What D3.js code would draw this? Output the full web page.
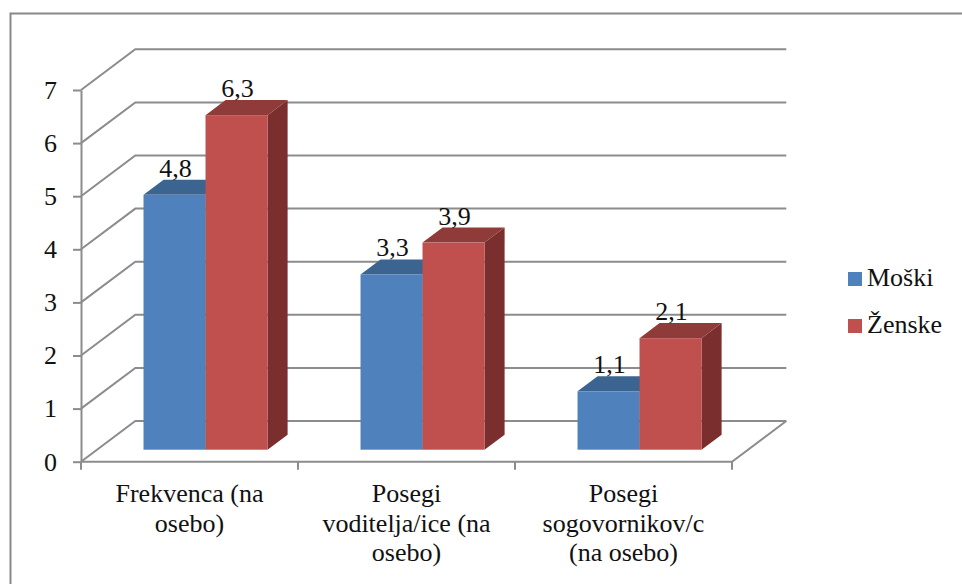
<!DOCTYPE html>
<html>
<head>
<meta charset="utf-8">
<script src="https://cdn.jsdelivr.net/npm/d3@7"></script>
<style>
  @font-face { font-family: "ChartSerif"; src: local("Liberation Serif"), local("LiberationSerif"), local("Times New Roman"); }
  .lbl { font-family: "ChartSerif", "Liberation Serif", "Times New Roman", serif !important; }
</style>
</head>
<body style="margin:0">
<svg id="chart" width="962" height="584"></svg>
<script>
// Category labels (wrapped lines) and series values
const categories = ["Frekvenca (na osebo)", "Posegi voditelja/ice (na osebo)", "Posegi sogovornikov/c (na osebo)"];
const categoryLines = [
  ["Frekvenca (na", "osebo)"],
  ["Posegi", "voditelja/ice (na", "osebo)"],
  ["Posegi", "sogovornikov/c", "(na osebo)"]
];
const seriesNames = ["Moški", "Ženske"];
const moski = [4.8, 3.3, 1.1];
const zenske = [6.3, 3.9, 2.1];
const yTicks = [0, 1, 2, 3, 4, 5, 6, 7];

const series = [
  { name: seriesNames[0], values: moski, front: "#4f81bd", top: "#3c6491", side: "#2f4f77" },
  { name: seriesNames[1], values: zenske, front: "#c0504d", top: "#8f3b39", side: "#7a2f2e" }
];

const fontSize = 26;
const textColor = "#111";

const svg = d3.select("#chart");

// outer frame
svg.append("rect")
  .attr("x", 10.5).attr("y", 13.5)
  .attr("width", 1000).attr("height", 1000)
  .attr("fill", "none").attr("stroke", "#888").attr("stroke-width", 2);

// 3D projection of the plot box
const left = 81, right = 732;
const wallDX = 54.3, wallDY = -40.7;
const y = d3.scaleLinear().domain([0, 7]).range([461.7, 90]);
const x = d3.scaleBand().domain(categories).range([left, right]).paddingInner(0).paddingOuter(0);
const gridColor = "#8c8c8c";

const grid = svg.append("g");
// gridlines on left side wall and back wall
yTicks.forEach(v => {
  const yy = y(v);
  grid.append("path")
    .attr("d", `M${left},${yy}L${left + wallDX},${yy + wallDY}L${right + wallDX},${yy + wallDY}`)
    .attr("fill", "none").attr("stroke", gridColor).attr("stroke-width", 2);
});
// floor front edge and right edge
grid.append("path")
  .attr("d", `M${left},${y(0)}L${right},${y(0)}L${right + wallDX},${y(0) + wallDY}`)
  .attr("fill", "none").attr("stroke", gridColor).attr("stroke-width", 2);

// category tick marks at band boundaries
const bounds = categories.map(c => x(c)).concat([right]);
grid.selectAll("line.ctick").data(bounds).join("line")
  .attr("class", "ctick")
  .attr("x1", d => d).attr("x2", d => d)
  .attr("y1", y(0)).attr("y2", y(0) + 8)
  .attr("stroke", gridColor).attr("stroke-width", 2);

// value axis
const yAxis = svg.append("g")
  .attr("transform", `translate(${left},0)`)
  .call(d3.axisLeft(y).tickValues(yTicks).tickFormat(d3.format("d")).tickSize(8).tickSizeOuter(0).tickPadding(16))
  .attr("font-family", "Liberation Serif")
  .attr("font-size", fontSize);
yAxis.select(".domain").attr("stroke", gridColor).attr("stroke-width", 2);
yAxis.selectAll(".tick line").attr("stroke", gridColor).attr("stroke-width", 2);

// bars
const bw = x.bandwidth() / 3.5;
const t0 = 0.295, tD = 0.37;            // depth position and depth of bars, as fraction of the wall
const sx = wallDX * t0, sy = wallDY * t0;
const ddx = wallDX * tD, ddy = wallDY * tD;
const bars = svg.append("g");
const labels = svg.append("g");

categories.forEach((c, ci) => {
  series.forEach((s, si) => {
    const v = s.values[ci];
    const x0 = x(c) + 0.75 * bw + si * bw + sx;
    const x1 = x0 + bw;
    const yb = y(0) + sy;
    const yt = y(v) + sy;
    const g = bars.append("g");
    // side face
    g.append("path")
      .attr("d", `M${x1},${yb}L${x1 + ddx},${yb + ddy}L${x1 + ddx},${yt + ddy}L${x1},${yt}Z`)
      .attr("fill", s.side);
    // top face
    g.append("path")
      .attr("d", `M${x0},${yt}L${x1},${yt}L${x1 + ddx},${yt + ddy}L${x0 + ddx},${yt + ddy}Z`)
      .attr("fill", s.top);
    // front face
    g.append("rect")
      .attr("x", x0).attr("y", yt)
      .attr("width", bw).attr("height", yb - yt)
      .attr("fill", s.front);
    // value label
    labels.append("text")
      .attr("x", x0 + bw / 2 + 1)
      .attr("y", yt + ddy - 3)
      .attr("text-anchor", "middle")
      .text(d3.format(".1f")(v).replace(".", ","));
  });
});

// category labels
const catLabels = svg.append("g");
categories.forEach((c, ci) => {
  const cx = x(c) + x.bandwidth() / 2;
  const t = catLabels.append("text").attr("text-anchor", "middle");
  categoryLines[ci].forEach((line, li) => {
    t.append("tspan").attr("x", cx).attr("y", 502 + li * 29.5).text(line);
  });
});

// legend
const legend = svg.append("g").attr("transform", "translate(848,272)");
series.forEach((s, i) => {
  const g = legend.append("g").attr("transform", `translate(0,${i * 47})`);
  g.append("rect").attr("width", 14).attr("height", 14).attr("fill", s.front);
  g.append("text").attr("x", 19).attr("y", 14).text(s.name);
});

// shared typeface for every label
svg.selectAll("text")
  .classed("lbl", true)
  .attr("font-family", "Liberation Serif")
  .attr("font-size", fontSize)
  .attr("fill", textColor)
  .each(function () { this.style.setProperty("font-family", "Liberation Serif", "important"); });
</script>
</body>
</html>
